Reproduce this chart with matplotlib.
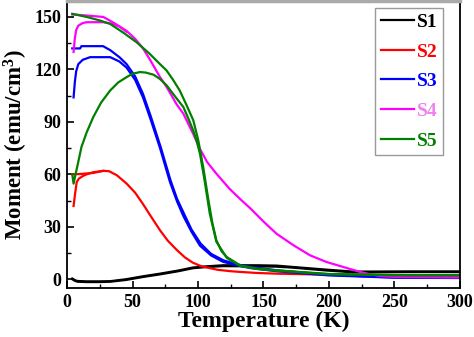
import matplotlib
matplotlib.use('Agg')
import matplotlib.pyplot as plt
import numpy as np

plt.rcParams['font.family'] = 'Liberation Serif'
plt.rcParams['font.weight'] = 'bold'
plt.rcParams['mathtext.fontset'] = 'custom'
plt.rcParams['mathtext.bf'] = 'Liberation Serif:bold'
plt.rcParams['mathtext.rm'] = 'Liberation Serif:bold'

# S1 (black)
s1_fc_t = [4, 6, 8, 15, 25, 33, 45, 58, 71, 85, 96, 105, 119, 145, 160, 173, 198, 218, 230, 260, 300]
s1_fc_m = [0.4, -0.5, -1.0, -1.2, -1.2, -1.1, 0.0, 1.7, 3.2, 5.0, 6.7, 7.3, 8.0, 8.0, 7.8, 7.0, 5.5, 4.4, 4.4, 4.5, 4.5]
s1_zfc_t = [4, 6, 8, 15, 25, 33, 45, 58, 71, 85, 96, 105, 119, 145, 160, 173, 198, 218, 230, 260, 300]
s1_zfc_m = [0.0, -0.9, -1.4, -1.6, -1.6, -1.4, -0.4, 1.3, 2.8, 4.6, 6.3, 6.9, 7.5, 7.4, 7.2, 6.6, 5.0, 4.0, 4.0, 4.1, 4.1]

# S2 (red)
s2_fc_t = [4, 10, 20, 27.7, 32, 38, 45.5, 52, 58, 64, 71, 77, 84, 90, 96, 102, 107, 115, 125, 132, 145,
           160, 200, 250, 300]
s2_fc_m = [60, 60.2, 60.8, 62, 61.8, 59.5, 54.7, 49.5, 43, 36, 28, 22, 16.6, 12.5, 9.5, 7.6, 6.7, 5.4, 4.6,
           4.2, 3.6, 3.2, 2.6, 2.4, 2.3]
s2_zfc_t = [5, 6, 7.4, 9, 12, 15, 20, 27.7]
s2_zfc_m = [41.9, 48, 55.6, 57.5, 59, 60, 61.2, 62]

# S3 (blue)
s3_fc_t = [4, 10, 11, 27.5, 33, 40, 45.5, 52, 58, 64, 71.5, 79, 84, 89.3, 95, 102, 110, 119.5, 130, 140.5,
           160.5, 200, 250, 300]
s3_fc_m = [132, 132, 133.3, 133.3, 131, 127, 123, 116, 106, 93, 75.6, 56.6, 46, 37.5, 28.5, 20.4, 14.5, 10.8,
           8.5, 7.0, 5.1, 2.5, 1.0, 0.8]
s3_zfc_t = [5, 6, 7, 8.6, 12, 17.6, 33, 40, 45.5, 52, 58, 64, 71, 78.6, 84, 88.8, 95, 101.5, 110, 119, 130,
            140, 160, 200, 250, 300]
s3_zfc_m = [104, 113, 119, 123, 125.5, 127, 127, 124.5, 121, 114, 104, 91, 75.0, 55.6, 44.5, 36.2, 27.2, 19.2,
            13.6, 10.0, 7.9, 6.4, 4.6, 2.2, 0.9, 0.7]

# S4 (magenta)
s4_fc_t = [4, 12, 20, 27.7, 36, 45.5, 52, 58, 63, 71, 76, 83.7, 88.8, 96.4, 101.5, 107, 114, 124, 132, 140,
           150, 160, 173, 185.5, 198, 211, 223.7, 231, 240, 250, 300]
s4_fc_m = [151.4, 151, 150.5, 150, 146.5, 142, 137.5, 132, 126, 115.6, 110, 100, 94.7, 83, 74.5, 67, 60.4,
           51.8, 46, 40.5, 33, 26, 19.4, 13.7, 9.9, 7.0, 4.2, 2.9, 1.8, 1.3, 1.0]
s4_zfc_t = [5, 6, 7, 8.6, 12, 15, 27.7, 35, 40, 45.5]
s4_zfc_m = [130, 138, 142.5, 145, 146.5, 147, 147, 146, 144.5, 141.5]

# S5 (green)
s5_fc_t = [4, 15, 25, 33, 43, 53, 63, 71, 76, 81, 86, 91, 96.4, 100.2, 104, 108, 111, 114, 118, 122, 132,
           145, 160, 200, 250, 300]
s5_fc_m = [151.8, 150, 148, 146, 141, 135.6, 129, 123, 119.4, 114, 108, 100, 90.9, 79.4, 64, 45, 32, 22.3,
           16, 12.7, 8.0, 6.1, 5.1, 3.0, 2.4, 2.3]
s5_zfc_t = [4, 5, 6.5, 8, 11, 15, 20, 26, 33, 39, 45.5, 50, 55.7, 60, 66, 71, 76, 82, 88.8, 92, 96.4, 99,
            101.5, 105, 109, 114, 122, 132, 145, 160, 200, 250, 300]
s5_zfc_m = [60, 54.7, 60, 65, 75.6, 84, 92.7, 101, 108, 112.5, 115.6, 117.5, 118.5, 118.2, 117, 114.5, 110.9,
            105, 98.5, 93, 85, 79, 71.8, 56.6, 37.5, 21.5, 12.2, 7.7, 5.9, 4.9, 2.9, 2.3, 2.2]

labels = ['S1', 'S2', 'S3', 'S4', 'S5']
colors = ['black', '#ff0000', '#0000ff', '#ff00ff', '#008000']
text_colors = ['black', '#ff0000', '#0000ff', '#ee82ee', '#008000']

series = [
    (s1_fc_t, s1_fc_m, s1_zfc_t, s1_zfc_m),
    (s2_fc_t, s2_fc_m, s2_zfc_t, s2_zfc_m),
    (s3_fc_t, s3_fc_m, s3_zfc_t, s3_zfc_m),
    (s4_fc_t, s4_fc_m, s4_zfc_t, s4_zfc_m),
    (s5_fc_t, s5_fc_m, s5_zfc_t, s5_zfc_m),
]

fig = plt.figure(figsize=(4.74, 3.37), dpi=100)
ax = fig.add_axes([0.1414, 0.1454, 0.829, 0.851])

for (ft, fm, zt, zm), lab, c in zip(series, labels, colors):
    ax.plot(ft, fm, color=c, lw=1.6, label=lab, solid_joinstyle='round')
    ax.plot(zt, zm, color=c, lw=1.6, solid_joinstyle='round')

ax.set_xlim(0, 300)
ax.set_ylim(-5, 159)
ax.set_xticks([0, 50, 100, 150, 200, 250, 300])
ax.set_yticks([0, 30, 60, 90, 120, 150])
ax.set_xticks(np.arange(25, 300, 50), minor=True)
ax.set_yticks(np.arange(15, 159, 30), minor=True)
ax.tick_params(which='both', direction='in', top=False, right=False, labelsize=13, pad=4)
ax.tick_params(which='major', length=5, width=1.2)
ax.tick_params(which='minor', length=3, width=1.0)
for lab in ax.get_xticklabels() + ax.get_yticklabels():
    lab.set_fontweight('bold')
for sp in ax.spines.values():
    sp.set_linewidth(1.3)
ax.spines['top'].set_color('#aaaaaa')
ax.spines['top'].set_linewidth(2.5)

ax.set_xlabel('Temperature (K)', fontsize=17, fontweight='bold', labelpad=0)
ax.set_ylabel(r'Moment (emu/cm$\mathbf{^3}$)', fontsize=16.5, fontweight='bold', labelpad=3)

leg = ax.legend(loc='upper right', bbox_to_anchor=(0.957, 0.978), fontsize=14, handlelength=1.7,
                handletextpad=0.15, labelspacing=0.62, borderpad=0.3, borderaxespad=0, fancybox=False,
                edgecolor='#999999', framealpha=1)
for txt, tc in zip(leg.get_texts(), text_colors):
    txt.set_color(tc)
    txt.set_fontweight('bold')
leg.get_frame().set_linewidth(1.0)

fig.savefig('out.png', dpi=100)
